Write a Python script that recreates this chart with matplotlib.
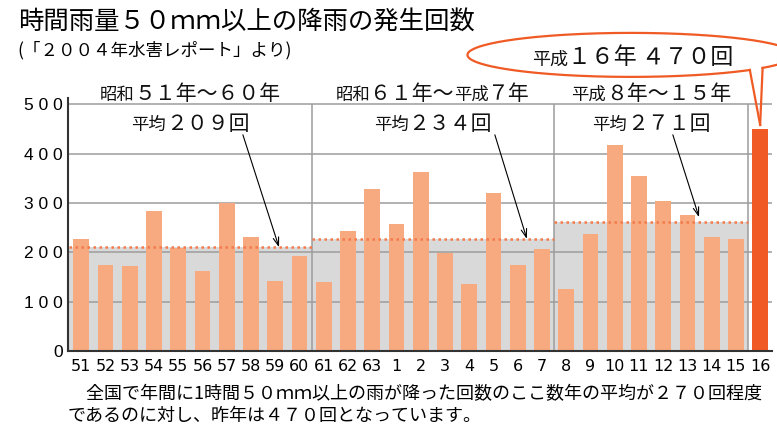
import matplotlib

matplotlib.use("Agg")
import matplotlib.pyplot as plt
import numpy as np
from matplotlib.offsetbox import AnnotationBbox, HPacker, TextArea

# ---- data ----
years = ["51", "52", "53", "54", "55", "56", "57", "58", "59", "60",
         "61", "62", "63", "1", "2", "3", "4", "5", "6", "7",
         "8", "9", "10", "11", "12", "13", "14", "15", "16"]
counts = [226, 174, 172, 284, 209, 162, 299, 230, 141, 192,
          139, 243, 328, 257, 363, 199, 135, 321, 174, 206,
          125, 236, 417, 354, 303, 276, 230, 226,
          450]
period_edges = [-0.5, 9.5, 19.5, 27.5]
period_levels = [210, 227, 262]
# runs alternate: small era name, large numbers
period_titles = [["昭和", "５１年～６０年"],
                 ["昭和", "６１年～", "平成", "７年"],
                 ["平成", "８年～１５年"]]
period_means = ["２０９", "２３４", "２７１"]
arrow_from_x = [6.67, 17.06, 24.4]
arrow_to_x = [8.16, 18.38, 25.48]
arrow_to_y = [210, 227, 271]
callout_runs = ["平成", "１６年 ４７０回"]

title = "時間雨量５０ｍｍ以上の降雨の発生回数"
subtitle = "(「２００４年水害レポート」より)"
note_1 = "　全国で年間に1時間５０ｍｍ以上の雨が降った回数のここ数年の平均が２７０回程度"
note_2 = "であるのに対し、昨年は４７０回となっています。"

JP = ["Noto Sans CJK JP", "DejaVu Sans"]
BAR = "#F7A97F"
HOT = "#F05A24"
DOT = "#F47A4C"
GRID = "#9C9C9C"

W, H = 777, 428
fig = plt.figure(figsize=(W / 100, H / 100), dpi=100)
ax = fig.add_axes([0.0879, 0.1801, 0.9057, 0.5902])


def runs_box(parts, big, small, x, y):
    kids = []
    for i, p in enumerate(parts):
        size = small if i % 2 == 0 else big
        kids.append(TextArea(p, textprops=dict(fontsize=size, family=JP, color="#111111")))
    box = HPacker(children=kids, align="baseline", pad=0, sep=0)
    ab = AnnotationBbox(box, (x, y), xycoords="data", frameon=False,
                        box_alignment=(0.5, 0.5), annotation_clip=False, zorder=6)
    ax.add_artist(ab)


x = np.arange(len(years))
colors = [BAR] * (len(years) - 1) + [HOT]

# gray band + dotted average for each period
for i, lvl in enumerate(period_levels):
    x0, x1 = period_edges[i], period_edges[i + 1]
    ax.fill_between([x0, x1], 0, lvl, color="#D9D9D9", lw=0, zorder=0.3)
    ax.plot([x0, x1], [lvl, lvl], color=DOT, lw=1.8, ls=(0, (1, 1.4)), zorder=4)

ax.vlines(period_edges[1:], 0, 500, color=GRID, lw=1.1, zorder=1)
ax.bar(x, counts, width=0.65, color=colors, zorder=2)

ax.set_xlim(-0.53, 28.49)
ax.set_ylim(0, 512)
ax.set_axisbelow(True)
ax.yaxis.grid(True, color=GRID, lw=1.1)
ax.set_yticks(range(0, 501, 100), [" ".join(str(v)) for v in range(0, 501, 100)],
              family=["Liberation Sans", "DejaVu Sans"], fontsize=12.5)
ax.set_xticks(x, years, family=["Liberation Sans Narrow", "DejaVu Sans Condensed", "DejaVu Sans"],
              fontsize=11.5)
ax.tick_params(length=0)
ax.tick_params(axis="y", pad=4)
ax.tick_params(axis="x", pad=6)
for s in ("top", "right"):
    ax.spines[s].set_visible(False)
for s in ("left", "bottom"):
    ax.spines[s].set_color("#333333")
    ax.spines[s].set_linewidth(1.5)

# period headings, averages and pointer lines
for i in range(len(period_levels)):
    xc = (period_edges[i] + period_edges[i + 1]) / 2
    runs_box(period_titles[i], 15, 12.5, xc, 521)
    runs_box(["平均", period_means[i] + "回"], 15, 12.5, xc, 460)
    ax.annotate("", xy=(arrow_to_x[i], arrow_to_y[i]), xytext=(arrow_from_x[i], 438),
                arrowprops=dict(arrowstyle="->,head_length=0.6,head_width=0.2",
                                color="black", lw=0.8, shrinkA=0, shrinkB=0),
                annotation_clip=False, zorder=5)

# callout for the latest year
cx, cy, ea, eb = 22.67, 600, 6.74, 44.6
t = np.deg2rad(np.linspace(-36.3, 316.7, 300))
ax.plot(cx + ea * np.cos(t), cy + eb * np.sin(t), color=HOT, lw=1.6, clip_on=False, zorder=6)
tip = (x[-1], counts[-1] + 8)
for ang in (-43.3, -36.3):
    a = np.deg2rad(ang)
    ax.plot([cx + ea * np.cos(a), tip[0]], [cy + eb * np.sin(a), tip[1]],
            color=HOT, lw=1.6, clip_on=False, zorder=6)
runs_box(callout_runs, 16.5, 13, 22.75, 594)

fig.text(18 / W, 1 - 22 / H, title, family=JP, fontsize=18.3, va="center")
fig.text(17 / W, 1 - 50 / H, subtitle, family=JP, fontsize=12.6, va="center")
fig.text(68 / W, 1 - 394 / H, note_1, family=JP, fontsize=13, va="center")
fig.text(68 / W, 1 - 416 / H, note_2, family=JP, fontsize=13, va="center")

fig.savefig("out.png", dpi=100)
